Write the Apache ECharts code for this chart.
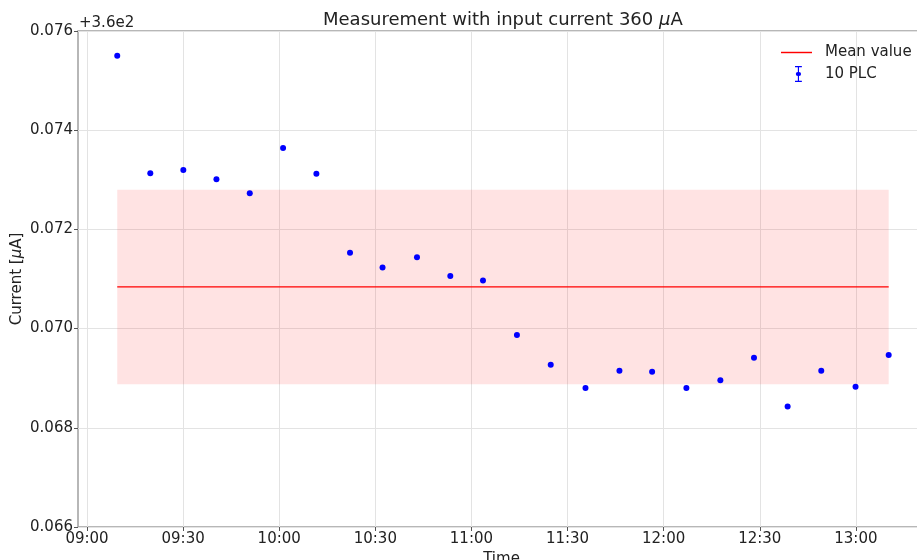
<!DOCTYPE html>
<html>
<head>
<meta charset="utf-8">
<script src="https://cdn.jsdelivr.net/npm/echarts@6/dist/echarts.min.js"></script>
<style>
  html, body { margin: 0; padding: 0; background: #fff; }
  #chart { width: 917px; height: 560px; }
</style>
</head>
<body>
<div id="chart"></div>
<script>
// Sample timestamps (one reading roughly every 10.4 minutes)
const sampleTimes = [
  '2021-03-15 09:09:26', '2021-03-15 09:19:45', '2021-03-15 09:30:04', '2021-03-15 09:40:24',
  '2021-03-15 09:50:48', '2021-03-15 10:01:12', '2021-03-15 10:11:36', '2021-03-15 10:22:06',
  '2021-03-15 10:32:15', '2021-03-15 10:43:00', '2021-03-15 10:53:24', '2021-03-15 11:03:36',
  '2021-03-15 11:14:12', '2021-03-15 11:24:45', '2021-03-15 11:35:36', '2021-03-15 11:46:12',
  '2021-03-15 11:56:24', '2021-03-15 12:07:06', '2021-03-15 12:17:42', '2021-03-15 12:28:12',
  '2021-03-15 12:38:42', '2021-03-15 12:49:12', '2021-03-15 12:59:54', '2021-03-15 13:10:15'
];

// Measured current in µA (10 PLC integration)
const currentValues = [
  360.07550, 360.07313, 360.07320, 360.07301, 360.07273, 360.07364, 360.07312, 360.07153,
  360.07123, 360.07144, 360.07106, 360.07097, 360.06987, 360.06927, 360.06880, 360.06915,
  360.06913, 360.06880, 360.06896, 360.06941, 360.06843, 360.06915, 360.06883, 360.06947
];

// Mean of the run and its ±1σ spread
const meanValue = 360.07084;
const sigmaValue = 0.00196;

// Y axis: offset shown separately, ticks every 0.002
const yOffset = 360;
const yMin = 360.066;
const yMax = 360.076;
const yStep = 0.002;

// X axis tick labels (half-hour marks) and visible window
const day = '2021-03-15';
const timeTicks = ['09:00', '09:30', '10:00', '10:30', '11:00', '11:30', '12:00', '12:30', '13:00'];
const xStart = '2021-03-15 08:57:11';
const xEnd = '2021-03-15 13:21:35';

const FONT = 'DejaVu Sans';
const TEXT = '#222';

const toMs = s => new Date(s.replace(' ', 'T')).getTime();
const tickMs = timeTicks.map(t => toMs(day + ' ' + t + ':00'));
const fmtHM = v => {
  const d = new Date(v);
  return String(d.getHours()).padStart(2, '0') + ':' + String(d.getMinutes()).padStart(2, '0');
};

const chart = echarts.init(document.getElementById('chart'));

const firstT = toMs(sampleTimes[0]);
const lastT = toMs(sampleTimes[sampleTimes.length - 1]);

chart.setOption({
  animation: false,
  backgroundColor: '#fff',
  textStyle: { fontFamily: FONT },
  title: {
    text: 'Measurement with input current 360 {i|μ}A',
    left: 318,
    top: 6,
    textStyle: {
      fontFamily: FONT, fontSize: 18, fontWeight: 'normal', color: TEXT,
      rich: { i: { fontFamily: FONT, fontSize: 18, fontStyle: 'italic', color: TEXT } }
    }
  },
  grid: {
    left: 78, top: 31, right: -8, bottom: 33,
    outerBoundsMode: 'none',
    containLabel: false,
    show: true, borderColor: '#a0a0a0', borderWidth: 1.5, backgroundColor: 'transparent'
  },
  legend: [
    {
      data: [{ name: 'Mean value', icon: 'path://M0,0H32V1.5H0Z' }],
      orient: 'vertical', left: 781, top: 45, padding: 0,
      itemWidth: 31, itemHeight: 2,
      textStyle: { fontFamily: FONT, fontSize: 15, color: TEXT, padding: [0, 0, 0, 8] }
    },
    {
      data: [{
        name: '10 PLC',
        icon: 'path://M2,0H8V1H5.5V5.2A1.6,1.6 0 0 1 5.5,8.8V13H8V14H2V13H4.5V8.8A1.6,1.6 0 0 1 4.5,5.2V1H2Z'
      }],
      orient: 'vertical', left: 795, top: 66, padding: 0,
      itemWidth: 7, itemHeight: 16,
      textStyle: { fontFamily: FONT, fontSize: 15, color: TEXT, padding: [0, 0, 0, 18] }
    }
  ],
  graphic: [
    {
      type: 'text', left: 79, top: 16,
      style: { text: '+3.6e2', font: '15px "DejaVu Sans"', fill: TEXT }
    }
  ],
  xAxis: {
    type: 'value',
    min: toMs(xStart),
    max: toMs(xEnd),
    name: 'Time',
    nameLocation: 'middle',
    nameGap: 21,
    nameTextStyle: { fontFamily: FONT, fontSize: 15, color: TEXT, verticalAlign: 'top' },
    axisLine: { show: false },
    axisTick: { show: true, length: 4, customValues: tickMs, lineStyle: { color: '#555' } },
    axisLabel: {
      customValues: tickMs,
      formatter: fmtHM,
      fontFamily: FONT, fontSize: 15, color: TEXT, margin: 5, hideOverlap: false
    },
    splitLine: { show: true, lineStyle: { color: '#e3e3e3', width: 1 } }
  },
  yAxis: {
    type: 'value',
    min: yMin,
    max: yMax,
    interval: yStep,
    name: 'Current [{i|μ}A]',
    nameLocation: 'middle',
    nameRotate: 90,
    nameGap: 53,
    nameMoveOverlap: false,
    nameTextStyle: {
      fontFamily: FONT, fontSize: 15, color: TEXT,
      rich: { i: { fontFamily: FONT, fontSize: 15, fontStyle: 'italic', color: TEXT } }
    },
    axisLine: { show: false },
    axisTick: { show: true, length: 4, lineStyle: { color: '#555' } },
    axisLabel: {
      fontFamily: FONT, fontSize: 15, color: TEXT, margin: 5,
      formatter: v => (v - yOffset).toFixed(3)
    },
    splitLine: { show: true, lineStyle: { color: '#e3e3e3', width: 1 } }
  },
  series: [
    {
      // ±1σ band around the mean
      name: 'band',
      type: 'line',
      data: [[firstT, meanValue], [lastT, meanValue]],
      symbol: 'none',
      lineStyle: { opacity: 0 },
      z: 1,
      silent: true,
      markArea: {
        silent: true,
        itemStyle: { color: 'rgba(255, 0, 0, 0.11)' },
        data: [[
          { xAxis: firstT, yAxis: meanValue - sigmaValue },
          { xAxis: lastT, yAxis: meanValue + sigmaValue }
        ]]
      }
    },
    {
      name: 'Mean value',
      type: 'line',
      data: [[firstT, meanValue], [lastT, meanValue]],
      symbol: 'none',
      lineStyle: { color: '#ff0000', width: 1.3 },
      itemStyle: { color: '#ff0000' },
      z: 3
    },
    {
      name: '10 PLC',
      type: 'scatter',
      data: sampleTimes.map((t, i) => [toMs(t), currentValues[i]]),
      symbol: 'circle',
      symbolSize: 6,
      itemStyle: { color: '#0000ff', opacity: 1 },
      z: 4
    }
  ]
});
</script>
</body>
</html>
